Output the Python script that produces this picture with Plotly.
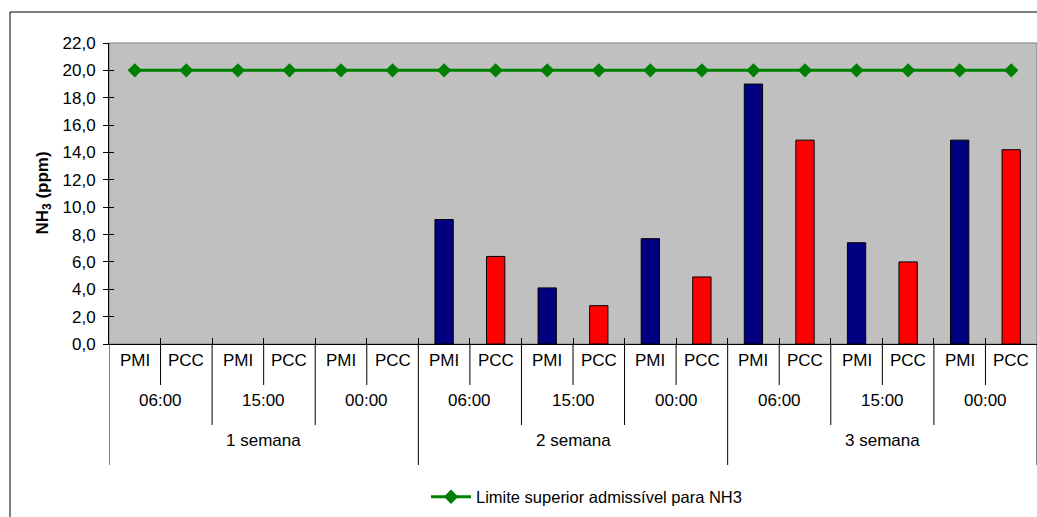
import plotly.graph_objects as go

# ---- data ----
weeks = ["1 semana", "2 semana", "3 semana"]
times = ["06:00", "15:00", "00:00"]
groups = ["PMI", "PCC"]
# values per week, per time (week 1 has no data)
pmi_values = [None, None, None, 9.1, 4.1, 7.7, 19.0, 7.4, 14.9]
pcc_values = [None, None, None, 6.4, 2.8, 4.9, 14.9, 6.0, 14.2]
limit_value = 20.0
limit_name = "Limite superior admissível para NH3"
y_ticks = [0, 2, 4, 6, 8, 10, 12, 14, 16, 18, 20, 22]

FONT = "Arial, Liberation Sans, sans-serif"

# category index layout
n_time = len(times)
n_grp = len(groups)
n_cat = len(weeks) * n_time * n_grp
pmi_x = [i * n_grp for i in range(len(pmi_values))]
pcc_x = [i * n_grp + 1 for i in range(len(pcc_values))]
all_x = list(range(n_cat))

fig = go.Figure()
fig.add_trace(go.Bar(x=pmi_x, y=pmi_values, width=0.355, name="PMI",
                     marker=dict(color="#000080", line=dict(color="black", width=1)),
                     showlegend=False))
fig.add_trace(go.Bar(x=pcc_x, y=pcc_values, width=0.355, name="PCC",
                     marker=dict(color="#FF0000", line=dict(color="black", width=1)),
                     showlegend=False))
fig.add_trace(go.Scatter(x=all_x, y=[limit_value] * n_cat, mode="lines+markers",
                         name=limit_name,
                         line=dict(color="#008000", width=3),
                         marker=dict(symbol="diamond", size=11, color="#008000")))
# dummy trace on yaxis2 so the overlay axis is drawn
fig.add_trace(go.Scatter(x=[0], y=[0], yaxis="y2", mode="markers",
                         marker=dict(opacity=0), showlegend=False, hoverinfo="skip"))

# geometry helpers (pixel -> paper)
W, H = 1037, 517
ml, mr, mt, mb = 109, 0, 43, 173
ph = H - mt - mb
pw = W - ml - mr

def py(p):
    return (H - mb - p) / ph

def px(p):
    return (p - ml) / pw

shapes = []
annotations = []
# plot area border (gray)
shapes.append(dict(type="rect", xref="paper", yref="paper", x0=0, x1=1, y0=0, y1=1,
                   line=dict(color="#808080", width=1), layer="below"))
# outer chart border
shapes.append(dict(type="rect", xref="paper", yref="paper", x0=px(10), x1=px(W + 20),
                   y0=py(H + 20), y1=py(12), line=dict(color="black", width=1)))

# divider lines below the axis
for b in range(n_cat + 1):
    xb = b - 0.5
    if b % (n_time * n_grp) == 0:
        yb = py(465)
    elif b % n_grp == 0:
        yb = py(425)
    else:
        yb = py(385)
    shapes.append(dict(type="line", xref="x", yref="paper", x0=xb, x1=xb, y0=0, y1=yb,
                       line=dict(color="black", width=1)))

LBL = 17
# category labels
for i in range(n_cat):
    annotations.append(dict(x=i, y=py(372), xref="x", yref="paper", text=groups[i % n_grp],
                            showarrow=False, font=dict(family=FONT, size=LBL, color="black")))
for j in range(len(weeks) * n_time):
    annotations.append(dict(x=j * n_grp + (n_grp - 1) / 2, y=py(412), xref="x", yref="paper",
                            text=times[j % n_time], showarrow=False,
                            font=dict(family=FONT, size=LBL, color="black")))
for k, w in enumerate(weeks):
    span = n_time * n_grp
    annotations.append(dict(x=k * span + (span - 1) / 2, y=py(452), xref="x", yref="paper",
                            text=w, showarrow=False,
                            font=dict(family=FONT, size=LBL, color="black")))
# y-axis title
annotations.append(dict(x=px(43), y=0.5, xref="paper", yref="paper", textangle=-90,
                        xanchor="center", yanchor="middle",
                        text="<b>NH<sub>3</sub> (ppm)</b>", showarrow=False,
                        font=dict(family=FONT, size=17, color="black")))

fig.update_layout(
    width=W, height=H,
    margin=dict(l=ml, r=mr, t=mt, b=mb, pad=0),
    paper_bgcolor="white", plot_bgcolor="#C0C0C0",
    separators=",.",
    barmode="overlay",
    font=dict(family=FONT, size=LBL, color="black"),
    xaxis=dict(range=[-0.5, n_cat - 0.5], tickvals=[b - 0.5 for b in range(n_cat + 1)],
               ticks="inside", ticklen=6, tickcolor="black", showticklabels=False,
               showgrid=False, zeroline=False, showline=True, linecolor="black", linewidth=1),
    yaxis=dict(range=[0, 22], tickvals=y_ticks, tickformat=".1f", ticks="outside",
               ticklen=5, tickcolor="black", showgrid=False, zeroline=False,
               showline=True, linecolor="black", linewidth=1, ticklabelstandoff=4,
               tickfont=dict(family=FONT, size=LBL, color="black")),
    yaxis2=dict(range=[0, 22], tickvals=y_ticks, overlaying="y", side="left",
                ticks="inside", ticklen=5, tickcolor="black", showticklabels=False,
                showgrid=False, zeroline=False, showline=False),
    legend=dict(orientation="h", x=px(426), y=py(497), xanchor="left", yanchor="middle",
                itemwidth=40,
                font=dict(family=FONT, size=16.5, color="black"), bgcolor="rgba(0,0,0,0)"),
    shapes=shapes, annotations=annotations,
)

fig.write_html("out.html", config={"displayModeBar": False},
               post_script="document.body.style.margin='0';document.body.style.overflow='hidden';")
